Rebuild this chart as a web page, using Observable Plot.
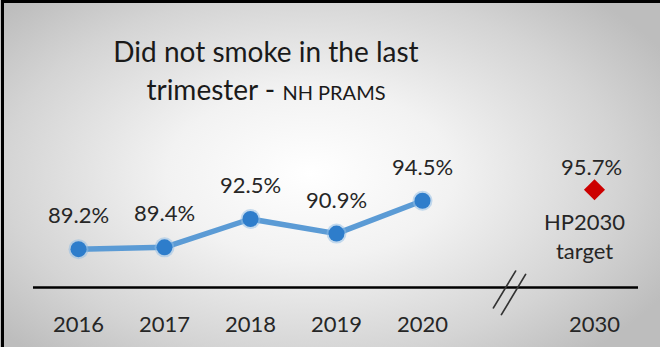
<!DOCTYPE html>
<html><head><meta charset="utf-8">
<script src="https://cdn.jsdelivr.net/npm/d3@7"></script>
<script src="https://cdn.jsdelivr.net/npm/@observablehq/plot@0.6"></script>
<style>
html,body{margin:0;padding:0;}
#frame{position:relative;width:660px;height:347px;overflow:hidden;
  background:radial-gradient(ellipse 62% 70% at 47% 50%, #ffffff 0%, #f2f2f2 35%, #d4d4d4 75%, #bdbdbd 100%);
  font-family:Lato,"Open Sans",sans-serif;color:#262626;}
#border{position:absolute;left:1px;top:0;width:700px;height:400px;border-top:3px solid #000;border-left:3px solid #000;box-sizing:border-box;}
#title{position:absolute;left:66px;width:400px;top:32px;text-align:center;line-height:38px;font-size:28px;color:#1a1a1a;}
#title .small{font-size:20px;}
#chart{position:absolute;left:0;top:0;}
</style></head>
<body>
<div id="frame">
  <div id="title"><div>Did not smoke in the last</div><div>trimester - <span class="small">NH PRAMS</span></div></div>
  <div id="chart"></div>
  <div id="border"></div>
</div>
<script>
const years = ["2016", "2017", "2018", "2019", "2020"];
const values = [89.2, 89.4, 92.5, 90.9, 94.5];
const gapLabel = "gap";
const targetYear = "2030";
const targetValue = 95.7;
const targetLabel = "HP2030\ntarget";
const xDomain = [...years, gapLabel, targetYear];

const series = years.map((y, i) => ({year: y, value: values[i]}));
const target = [{year: targetYear, value: targetValue}];
const breakMarks = [{year: gapLabel, value: 85}];

const lineShape = {draw(context, l) { context.moveTo(0, 0); context.lineTo(0, -l); }};

const chart = Plot.plot({
  width: 660,
  height: 347,
  marginLeft: 33,
  marginRight: 22,
  marginTop: 150,
  marginBottom: 60,
  style: {background: "transparent", fontFamily: "Lato, 'Open Sans', sans-serif", color: "#262626", overflow: "visible"},
  x: {type: "point", domain: xDomain, padding: 0.5, label: null},
  y: {domain: [85, 100], axis: null},
  marks: [
    Plot.ruleY([85], {stroke: "#000", strokeWidth: 2.5}),
    Plot.axisX({tickSize: 0, tickPadding: 29, fontSize: 22, fill: "#262626",
      tickFormat: d => d === gapLabel ? "" : d}),
    Plot.vector(breakMarks, {x: "year", y: "value", dx: -4, dy: 2, length: 43, rotate: 31, anchor: "middle", shape: lineShape, stroke: "#333", strokeWidth: 1.7}),
    Plot.vector(breakMarks, {x: "year", y: "value", dx: 5, dy: 7, length: 47, rotate: 31, anchor: "middle", shape: lineShape, stroke: "#333", strokeWidth: 1.7}),
    Plot.line(series, {x: "year", y: "value", stroke: "#5b9bd5", strokeWidth: 5.5}),
    Plot.dot(series, {x: "year", y: "value", r: 10, fill: "#8dbbe6", fillOpacity: 0.5}),
    Plot.dot(series, {x: "year", y: "value", r: 8, fill: "#2e7dcb"}),
    Plot.text(series, {x: "year", y: "value", text: d => d.value.toFixed(1) + "%", dy: -26, lineAnchor: "bottom", fontSize: 22, fill: "#262626"}),
    Plot.dot(target, {x: "year", y: "value", symbol: "diamond2", r: 9.5, fill: "#cc0000"}),
    Plot.text(target, {x: "year", y: "value", text: d => d.value.toFixed(1) + "%", dx: -3, dy: -15, lineAnchor: "bottom", fontSize: 22, fill: "#262626"}),
    Plot.text(target, {x: "year", y: "value", text: () => targetLabel, dx: -10, dy: 20, lineAnchor: "top", lineHeight: 1.3, fontSize: 22, fill: "#262626"})
  ]
});
document.getElementById("chart").appendChild(chart);
</script>
</body></html>
